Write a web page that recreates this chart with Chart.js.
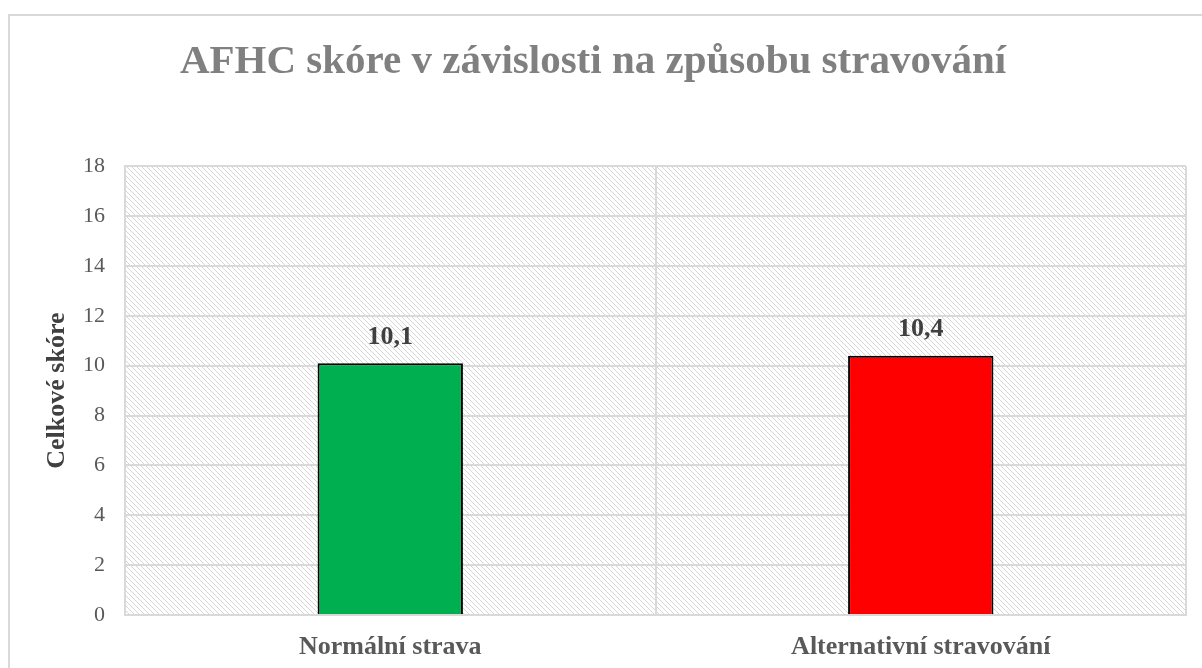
<!DOCTYPE html>
<html lang="cs">
<head>
<meta charset="utf-8">
<title>AFHC skóre</title>
<script src="https://cdn.jsdelivr.net/npm/chart.js@4"></script>
<style>
    html, body { margin: 0; padding: 0; background: #fff; }
    #wrap { width: 1202px; height: 668px; position: relative; }
</style>
</head>
<body>
<div id="wrap"><canvas id="afhcChart"></canvas></div>
<script>
// data
const kategorie = ['Normální strava', 'Alternativní stravování'];
const skore = [10.1, 10.4];
const barvy = ['#00B050', '#FF0000'];
const titulek = 'AFHC skóre v závislosti na způsobu stravování';
const osaY = 'Celkové skóre';

const serif = '"Liberation Serif", "Times New Roman", serif';

// šrafování pozadí
function makeHatch() {
    const c = document.createElement('canvas');
    c.width = 5; c.height = 5;
    const g = c.getContext('2d');
    g.fillStyle = '#ffffff';
    g.fillRect(0, 0, 5, 5);
    g.strokeStyle = '#d6d6d6';
    g.lineWidth = 1;
    g.beginPath();
    g.moveTo(-1, -1); g.lineTo(6, 6);
    g.moveTo(-1, 4); g.lineTo(1, 6);
    g.moveTo(4, -1); g.lineTo(6, 1);
    g.stroke();
    return g.createPattern(c, 'repeat');
}

const pozadi = {
    id: 'pozadi',
    beforeDraw(chart) {
        const ctx = chart.ctx;
        const a = chart.chartArea;
        ctx.save();
        // rámeček grafu
        ctx.strokeStyle = '#d9d9d9';
        ctx.lineWidth = 2;
        ctx.strokeRect(9, 15, 1210, 680);
        ctx.fillStyle = makeHatch();
        ctx.fillRect(a.left, a.top, a.right - a.left, a.bottom - a.top);
        ctx.restore();
    }
};

// popisky hodnot nad sloupci
const popisky = {
    id: 'popisky',
    afterDatasetsDraw(chart) {
        const ctx = chart.ctx;
        const meta = chart.getDatasetMeta(0);
        ctx.save();
        ctx.font = 'bold 26px ' + serif;
        ctx.fillStyle = '#404040';
        ctx.textAlign = 'center';
        ctx.textBaseline = 'middle';
        meta.data.forEach((bar, i) => {
            const txt = skore[i].toFixed(1).replace('.', ',');
            ctx.fillText(txt, bar.x, bar.y - 26);
        });
        ctx.restore();
    }
};

const ctx = document.getElementById('afhcChart').getContext('2d');
new Chart(ctx, {
    type: 'bar',
    data: {
        labels: kategorie,
        datasets: [{
            data: skore,
            backgroundColor: barvy,
            borderColor: '#000000',
            borderWidth: 2,
            categoryPercentage: 1,
            barPercentage: 0.274
        }]
    },
    options: {
        responsive: true,
        maintainAspectRatio: false,
        animation: false,
        layout: { padding: { left: 0, right: 16, top: 0, bottom: 0 } },
        plugins: {
            legend: { display: false },
            tooltip: { enabled: false },
            title: {
                display: true,
                text: titulek,
                color: '#808080',
                font: { family: serif, size: 41, weight: 'bold', lineHeight: 1.2 },
                padding: { top: 38, bottom: 79 }
            }
        },
        scales: {
            x: {
                grid: { color: '#d9d9d9', lineWidth: 2, drawTicks: false, offset: true },
                border: { color: '#d9d9d9', width: 2 },
                ticks: {
                    color: '#595959',
                    padding: 17,
                    font: { family: serif, size: 26, weight: 'bold' }
                },
                afterFit(scale) { scale.height = 53; }
            },
            y: {
                min: 0,
                max: 18,
                ticks: {
                    stepSize: 2,
                    color: '#595959',
                    padding: 20,
                    font: { family: serif, size: 22 }
                },
                grid: { color: '#d9d9d9', lineWidth: 2, drawTicks: false },
                border: { color: '#d9d9d9', width: 2 },
                title: {
                    display: true,
                    text: osaY,
                    color: '#404040',
                    font: { family: serif, size: 26, weight: 'bold' },
                    padding: { top: 42, bottom: 0 }
                },
                afterFit(scale) { scale.width = 125; }
            }
        }
    },
    plugins: [pozadi, popisky]
});
</script>
</body>
</html>
